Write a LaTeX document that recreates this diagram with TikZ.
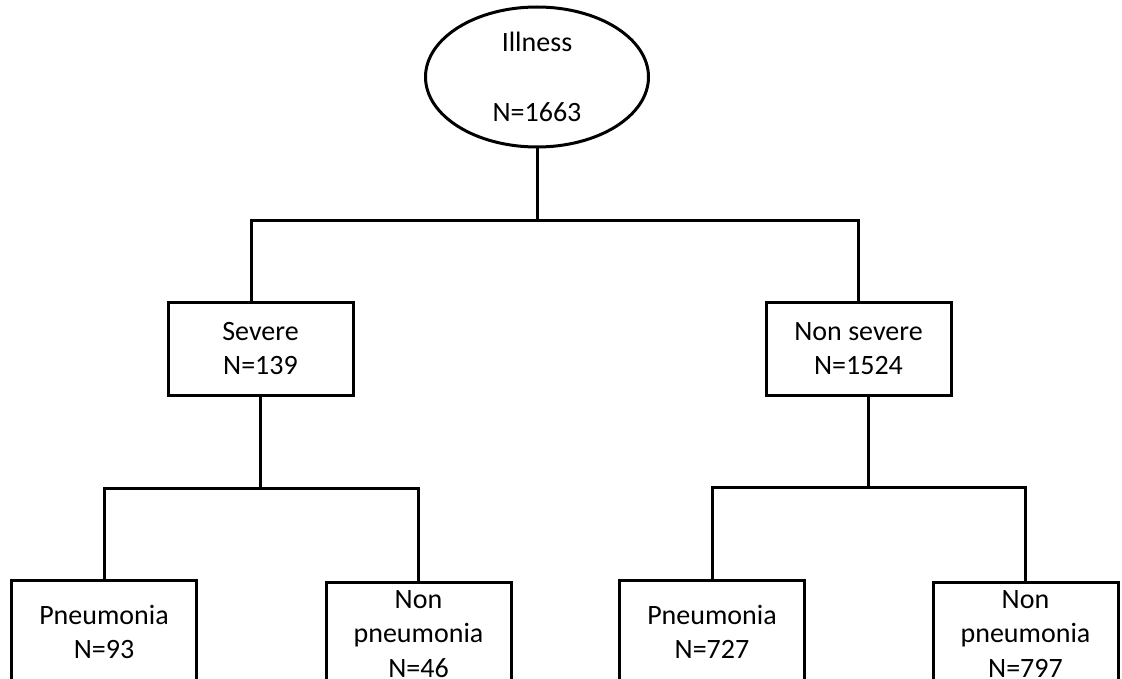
\documentclass[tikz,border=0pt]{standalone}
\usepackage{fontspec}
\setmainfont{Carlito}
\usepackage{tikz}
\usetikzlibrary{shapes.geometric,calc}
\tikzset{
  box/.style={draw,line width=3pt,minimum width=185pt,minimum height=93pt,align=center,inner sep=2pt,font=\fontsize{28}{34.5}\selectfont},
  leaf/.style={box,minimum height=104pt},
  oval/.style={draw,ellipse,line width=3pt,minimum width=223pt,minimum height=140pt,inner sep=0pt,align=center,font=\fontsize{28}{34.5}\selectfont},
  link/.style={line width=3pt}
}

\begin{document}
\begin{tikzpicture}[x=1pt,y=-1pt]
    \useasboundingbox (0,0) rectangle (1122,679);
    \clip (0,0) rectangle (1122,679);
    % top
    \node[oval] (ill) at (537,77) {Illness\\[35pt]N=1663};
    % second level
    \node[box] (sev) at (260.5,348.5) {Severe\\N=139};
    \node[box] (non) at (858.5,348.5) {Non severe\\N=1524};
    % leaves
    \node[leaf] (p1) at (104,632) {Pneumonia\\N=93};
    \node[leaf] (n1) at (418.5,634) {Non\\pneumonia\\N=46};
    \node[leaf] (p2) at (712,632) {Pneumonia\\N=727};
    \node[leaf] (n2) at (1025.5,634) {Non\\pneumonia\\N=797};
    % connectors
    \draw[link] (ill.south) -- ++(0,72) coordinate (j0);
    \draw[link] ([xshift=-9.5pt]sev.north) |- (j0) -| (non.north);
    \draw[link] (sev.south) -- ++(0,92) coordinate (j1);
    \draw[link] (p1.north) |- (j1) -| (n1.north);
    \draw[link] ([xshift=9.5pt]non.south) -- ++(0,91) coordinate (j2);
    \draw[link] (p2.north) |- (j2) -| (n2.north);
  \end{tikzpicture}
\end{document}
